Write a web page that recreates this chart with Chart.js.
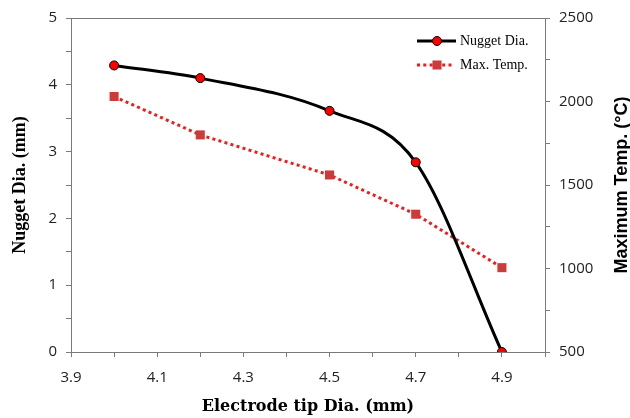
<!DOCTYPE html>
<html>
<head>
<meta charset="utf-8">
<script src="https://cdn.jsdelivr.net/npm/chart.js@4.4.1/dist/chart.umd.min.js"></script>
<style>
html,body{margin:0;padding:0;background:#fff;}
#wrap{width:630px;height:418px;position:relative;}
</style>
</head>
<body>
<div id="wrap"><canvas id="c" width="630" height="418"></canvas></div>
<script>
// ---- data ----
const tipDia = [4.0, 4.2, 4.5, 4.7, 4.9];          // Electrode tip Dia. (mm)
const nuggetDia = [4.29, 4.10, 3.61, 2.84, 0.0];   // Nugget Dia. (mm)
const maxTemp = [2030, 1800, 1560, 1325, 1005];    // Maximum Temp. (°C)
const seriesNames = ['Nugget Dia.', 'Max. Temp.'];
const xTitle = 'Electrode tip Dia. (mm)';
const yTitle = 'Nugget Dia. (mm)';
const y2Title = 'Maximum Temp. (°C)';

const AXIS = '#7a7a7a';
const TICKFONT = {family: '"Open Sans", sans-serif', size: 15};
const TICKCOLOR = '#222222';

const extras = {
  id: 'extras',
  afterDraw(chart) {
    const ctx = chart.ctx;
    const a = chart.chartArea;
    ctx.save();
    // top frame line
    ctx.strokeStyle = AXIS;
    ctx.lineWidth = 1;
    ctx.beginPath();
    ctx.moveTo(a.left, a.top + 0.5);
    ctx.lineTo(a.right, a.top + 0.5);
    ctx.stroke();

    // right axis title (reads bottom-to-top)
    ctx.save();
    ctx.translate(627, (a.top + a.bottom) / 2);
    ctx.rotate(-Math.PI / 2);
    ctx.font = 'bold 18px "Liberation Sans", Arial, sans-serif';
    ctx.fillStyle = '#000';
    ctx.textAlign = 'center';
    ctx.textBaseline = 'alphabetic';
    ctx.fillText(y2Title, 0, 0);
    ctx.restore();

    // legend inside plot
    const ds0 = chart.data.datasets[0], ds1 = chart.data.datasets[1];
    const lx0 = 417, lx1 = 456, mx = 437;
    const ly0 = 41, ly1 = 65;
    // row 1
    ctx.strokeStyle = ds0.borderColor;
    ctx.lineWidth = ds0.borderWidth;
    ctx.beginPath(); ctx.moveTo(lx0, ly0); ctx.lineTo(lx1, ly0); ctx.stroke();
    ctx.beginPath(); ctx.arc(mx, ly0, ds0.pointRadius, 0, Math.PI * 2);
    ctx.fillStyle = ds0.pointBackgroundColor; ctx.fill();
    ctx.lineWidth = ds0.pointBorderWidth; ctx.strokeStyle = ds0.pointBorderColor; ctx.stroke();
    // row 2
    ctx.strokeStyle = ds1.borderColor;
    ctx.lineWidth = ds1.borderWidth;
    ctx.setLineDash(ds1.borderDash);
    ctx.beginPath(); ctx.moveTo(lx0, ly1); ctx.lineTo(lx1 - 3, ly1); ctx.stroke();
    ctx.setLineDash([]);
    const s = ds1.pointRadius * Math.SQRT1_2;
    ctx.fillStyle = ds1.pointBackgroundColor;
    ctx.fillRect(mx - s, ly1 - s, 2 * s, 2 * s);
    // texts
    ctx.fillStyle = '#000';
    ctx.font = '14px "Liberation Serif", "Times New Roman", serif';
    ctx.textAlign = 'left';
    ctx.textBaseline = 'middle';
    ctx.fillText(seriesNames[0], 460, ly0);
    ctx.fillText(seriesNames[1], 460, ly1);
    ctx.restore();
  }
};

new Chart(document.getElementById('c'), {
  type: 'line',
  data: {
    datasets: [
      {
        label: seriesNames[0],
        data: tipDia.map((x, i) => ({x: x, y: nuggetDia[i]})),
        yAxisID: 'y',
        borderColor: '#000000',
        borderWidth: 3,
        cubicInterpolationMode: 'monotone',
        pointStyle: 'circle',
        pointRadius: 4.5,
        pointBackgroundColor: '#ff0000',
        pointBorderColor: '#000000',
        pointBorderWidth: 1,
        order: 0
      },
      {
        label: seriesNames[1],
        data: tipDia.map((x, i) => ({x: x, y: maxTemp[i]})),
        yAxisID: 'y2',
        borderColor: '#ee1c1c',
        borderWidth: 3,
        borderDash: [3, 3.3],
        tension: 0,
        pointStyle: 'rect',
        pointRadius: 6.4,
        pointBackgroundColor: '#cc3a3a',
        pointBorderColor: '#cc3a3a',
        pointBorderWidth: 0,
        order: 1
      }
    ]
  },
  options: {
    responsive: false,
    animation: false,
    events: [],
    layout: {padding: {top: 15, left: 0, right: 0, bottom: 0}},
    plugins: {legend: {display: false}, tooltip: {enabled: false}},
    scales: {
      x: {
        type: 'linear',
        min: 3.9, max: 5.0,
        afterFit(s) { s.height = 66; },
        border: {color: AXIS, width: 1},
        grid: {drawOnChartArea: false, color: AXIS, tickLength: 5},
        ticks: {
          stepSize: 0.1, autoSkip: false, maxRotation: 0, padding: 12,
          font: TICKFONT, color: TICKCOLOR,
          callback: (v, i) => (i % 2 === 0 && i < 11) ? Number(v).toFixed(1) : ''
        },
        title: {
          display: true, text: xTitle, color: '#000',
          font: {family: '"DejaVu Serif", serif', size: 16, weight: 'bold'},
          padding: {top: 0, bottom: 2}
        }
      },
      y: {
        position: 'left',
        min: 0, max: 5,
        afterFit(s) { s.width = 71; },
        border: {color: AXIS, width: 1},
        grid: {drawOnChartArea: false, color: AXIS, tickLength: 5},
        ticks: {
          stepSize: 0.5, autoSkip: false, padding: 9,
          font: TICKFONT, color: TICKCOLOR,
          callback: v => Number.isInteger(v) ? String(v) : ''
        },
        title: {
          display: true, text: yTitle, color: '#000',
          font: {family: '"Liberation Serif", "Times New Roman", serif', size: 18, weight: 'bold'},
          padding: {top: 10, bottom: 0}
        }
      },
      y2: {
        position: 'right',
        min: 500, max: 2500,
        afterFit(s) { s.width = 85; },
        border: {color: AXIS, width: 1},
        grid: {drawOnChartArea: false, color: AXIS, tickLength: 5},
        ticks: {
          stepSize: 250, autoSkip: false, padding: 9,
          font: TICKFONT, color: TICKCOLOR,
          callback: v => (v % 500 === 0) ? String(v) : ''
        },
        title: {display: false}
      }
    }
  },
  plugins: [extras]
});
</script>
</body>
</html>
